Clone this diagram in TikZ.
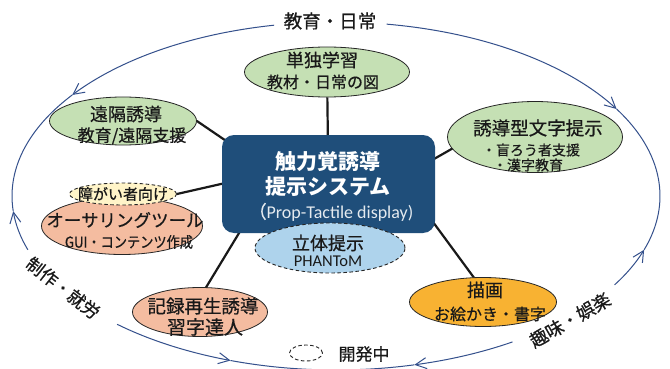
\documentclass[tikz,border=0pt]{standalone}
\usepackage{fontspec}
\usepackage{graphicx}
\setmainfont{Noto Sans CJK JP}[UprightFeatures={FakeBold=0.6}]
\newfontfamily\lat{Carlito}
\usetikzlibrary{shapes.geometric,arrows.meta,backgrounds,calc}
\definecolor{bgreen}{HTML}{C5E0B4}
\definecolor{salmon}{HTML}{F4BCA0}
\definecolor{orangeA}{HTML}{F8B232}
\definecolor{lblue}{HTML}{AED3EC}
\definecolor{lyellow}{HTML}{FFF4C8}
\definecolor{boxblue}{HTML}{1F4E7A}
\definecolor{loopblue}{HTML}{34508C}
\newcommand\fsz[1]{\fontsize{#1}{#1}\selectfont}
\begin{document}
\begin{tikzpicture}[x=1pt,y=-1pt,
  ell/.style={ellipse, draw=black!85, line width=0.8pt, inner sep=0pt},
  dashborder/.style={dash pattern=on 3.5pt off 2.5pt, line width=0.9pt},
  txt/.style={inner sep=0pt, text=black!90},
  conn/.style={line width=2.2pt, draw=black!90},
  loopline/.style={draw=loopblue, line width=1pt},
  tip/.style={-{Straight Barb[length=11pt,width=11pt,line width=1pt]}}
]
\useasboundingbox (0,0) rectangle (670,369);
% outer loop
\def\ex{336+324*cos(\x)}
\def\ey{196-174*sin(\x)}
\draw[loopline,tip] plot[domain=101:144.5,samples=40] ({\ex},{\ey});
\draw[loopline] plot[domain=144.5:185,samples=40] ({\ex},{\ey});
\draw[loopline,tip] plot[domain=198:185,samples=15] ({\ex},{\ey});
\draw[loopline,tip] plot[domain=81:30,samples=40] ({\ex},{\ey});
\draw[loopline] plot[domain=30:-18,samples=40] ({\ex},{\ey});
\draw[loopline,tip] plot[domain=-30.7:-18,samples=15] ({\ex},{\ey});
\draw[loopline,tip] plot[domain=-57:-76,samples=20] ({\ex},{\ey});
\draw[loopline] plot[domain=-76:-109,samples=30] ({\ex},{\ey});
\draw[loopline,tip] plot[domain=-132.5:-109,samples=20] ({\ex},{\ey});
% loop labels
\node[txt] (toplab) at (330,21) {\fsz{18.5}教育・日常};
\node[txt, rotate=-38] (leftlab) at (63,288) {\fsz{17.5}制作・就労};
\node[txt, rotate=30] (rightlab) at (570,320) {\fsz{18}趣味・娯楽};
% nodes
\node[ell, fill=bgreen, minimum width=165pt, minimum height=50pt] (solo) at (327,72) {};
\node[txt] (soloA) at (322,60) {\fsz{18}単独学習};
\node[txt] (soloB) at (323,82) {\fsz{16}教材・日常の図};

\node[ell, fill=bgreen, minimum width=147pt, minimum height=48pt] (remote) at (123,121) {};
\node[txt] (remoteA) at (126,114) {\fsz{18}遠隔誘導};
\node[txt] (remoteB) at (132,136) {\fsz{17}教育/遠隔支援};

\node[ell, fill=bgreen, minimum width=175pt, minimum height=71pt] (guide) at (535,137) {};
\node[txt] (guideA) at (538,128) {\fsz{18.5}誘導型文字提示};
\node[txt] (guideB) at (531,150) {\fsz{14}・盲ろう者支援};
\node[txt] (guideC) at (528,165) {\fsz{14}・漢字教育};

\node[fill=boxblue, rounded corners=12pt, minimum width=213pt, minimum height=98pt, inner sep=0pt] (box) at (328.5,184) {};
\node[txt, text=white] (boxA) at (328,161.5) {\fsz{21}\bfseries 触力覚誘導};
\node[txt, text=white] (boxB) at (328,187) {\fsz{21}\bfseries 提示システム};
\node[txt, text=white!88!boxblue] (boxC) at (331,212) {\fsz{18}（{\lat Prop-Tactile display)}};

\node[ell, dashborder, fill=lblue, minimum width=150pt, minimum height=50pt] (solid) at (330,248) {};
\node[txt] (solidA) at (328,243) {\fsz{18}立体提示};
\node[txt] (solidB) at (328,261) {\fsz{16.5}\lat PHANToM};

\node[ell, fill=salmon, minimum width=161pt, minimum height=57pt] (author) at (122,226) {};
\node[txt] (authorA) at (125,220) {\fsz{17.5}オーサリングツール};
\node[txt] (authorB) at (129,242) {\fsz{15}\scalebox{0.88}[1]{GUI・コンテンツ作成}};

\node[ell, dashborder, fill=lyellow, minimum width=107pt, minimum height=22pt] (tag) at (123,194) {};
\node[txt] (tagA) at (123,194) {\fsz{15}障がい者向け};

\node[ell, fill=salmon, minimum width=135pt, minimum height=49pt] (record) at (200,312) {};
\node[txt] (recordA) at (203,306) {\fsz{18.5}記録再生誘導};
\node[txt] (recordB) at (205,327) {\fsz{19}習字達人};

\node[ell, fill=orangeA, minimum width=147pt, minimum height=49pt] (paint) at (483,302) {};
\node[txt] (paintA) at (485,290) {\fsz{18}描画};
\node[txt] (paintB) at (490,314) {\fsz{16}お絵かき・書字};

\node[ell, dashborder, fill=white, minimum width=33pt, minimum height=16pt] (legend) at (306,353) {};
\node[txt] (legendA) at (364,354) {\fsz{17}開発中};

\begin{pgfonlayer}{background}
\fill[white] (0,0) rectangle (670,369);
\draw[conn] (solo) -- (box);
\draw[conn] (remote.east) -- ($(box.north west)+(10,10)$);
\draw[conn] ($(guide.west)+(8,10)$) -- ($(box.east)+(-10,-20)$);
\draw[conn] (tag.east) -- ($(box.west)+(8,-2)$);
\draw[conn] ($(record.north)+(5,2)$) -- ($(box.south west)+(22,-8)$);
\draw[conn] ($(paint.north)+(-8,2)$) -- ($(box.south east)+(-5,-15)$);
\end{pgfonlayer}
\end{tikzpicture}
\end{document}
